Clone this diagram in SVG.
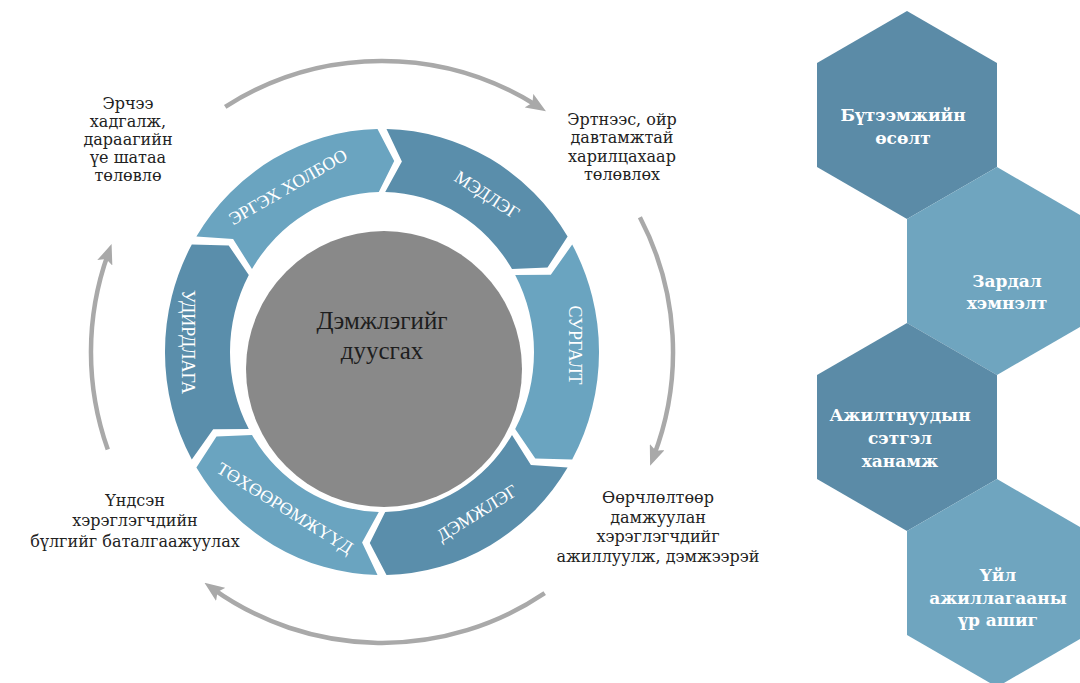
<svg xmlns="http://www.w3.org/2000/svg" width="1080" height="683" viewBox="0 0 1080 683">
  <defs>
    <marker id="head" markerUnits="userSpaceOnUse" viewBox="0 0 20 16" refX="10" refY="8" markerWidth="20" markerHeight="16" orient="auto">
      <path d="M0,0 L20,8 L0,16 L4,8 Z" fill="#a9a9a9"/>
    </marker>
  </defs>
  <style>
    .seg-light { fill: #6aa4c0; }
    .seg-dark { fill: #5a8eab; }
    .seg-text { font-family: "Liberation Serif", "Times New Roman", serif; font-size: 18px; fill: #ffffff; text-anchor: middle; }
    .note { font-family: "DejaVu Serif", "Liberation Serif", serif; font-size: 16px; fill: #222222; text-anchor: middle; }
    .hex-dark { fill: #5b8ba7; }
    .hex-light { fill: #6fa5bf; }
    .hex-text { font-family: "DejaVu Serif", "Liberation Serif", serif; font-size: 17px; font-weight: bold; fill: #ffffff; text-anchor: middle; }
    .arc { fill: none; stroke: #a9a9a9; stroke-width: 4.5; marker-end: url(#head); }
    .center-text { font-family: "Liberation Serif", "Times New Roman", serif; font-size: 25px; fill: #1e1e1e; text-anchor: middle; }
  </style>

  <rect width="1080" height="683" fill="#ffffff"/>

  <!-- circular arrows around the cycle -->
  <g id="connectors">
    <path class="arc" d="M225.2,106.8 A291,291 0 0 1 537.5,106"/>
    <path class="arc" d="M639.9,217.2 A291,291 0 0 1 653.7,456.3"/>
    <path class="arc" d="M544.7,593.2 A291,291 0 0 1 212.6,588.6"/>
    <path class="arc" d="M107.8,449.6 A291,291 0 0 1 108.2,253.4"/>
  </g>

  <!-- cycle segments -->
  <g id="seg-medleg">
    <path class="seg-dark" d="M386.5,129 A217,223 0 0 1 567.6,236.5 L547.5,267.5 L512,269.1 A152,160 0 0 0 385.2,192 L401.9,161.6 Z"/>
    <text class="seg-text" transform="translate(487,195) rotate(33)" y="6">МЭДЛЭГ</text>
  </g>
  <g id="seg-surgalt">
    <path class="seg-light" d="M572.2,244.6 A217,223 0 0 1 572.2,459.4 L535.3,458.5 L515.2,429.1 A152,160 0 0 0 515.2,274.9 L550.8,274.7 Z"/>
    <text class="seg-text" transform="translate(575,345) rotate(90)" y="6">СУРГАЛТ</text>
  </g>
  <g id="seg-demjleg">
    <path class="seg-dark" d="M567.6,467.5 A217,223 0 0 1 386.5,575 L369.8,543.1 L385.2,512 A152,160 0 0 0 512,434.9 L530.9,465.1 Z"/>
    <text class="seg-text" transform="translate(477,513) rotate(-32)" y="6">ДЭМЖЛЭГ</text>
  </g>
  <g id="seg-tukhuurumj">
    <path class="seg-light" d="M377.5,575 A217,223 0 0 1 196.4,467.5 L216.5,436.5 L252,434.9 A152,160 0 0 0 378.8,512 L362.1,542.4 Z"/>
    <text class="seg-text" transform="translate(285,508) rotate(32)" y="6">ТӨХӨӨРӨМЖҮҮД</text>
  </g>
  <g id="seg-udirdlaga">
    <path class="seg-dark" d="M191.8,459.4 A217,223 0 0 1 191.8,244.6 L228.7,245.5 L248.8,274.9 A152,160 0 0 0 248.8,429.1 L213.2,429.3 Z"/>
    <text class="seg-text" transform="translate(188,342) rotate(90)" y="6">УДИРДЛАГА</text>
  </g>
  <g id="seg-ergekh">
    <path class="seg-light" d="M196.4,236.5 A217,223 0 0 1 377.5,129 L394.2,160.9 L378.8,192 A152,160 0 0 0 252,269.1 L233.1,238.9 Z"/>
    <text class="seg-text" transform="translate(288,187) rotate(-30)" y="6">ЭРГЭХ ХОЛБОО</text>
  </g>

  <!-- hub -->
  <g id="hub">
    <circle cx="384" cy="369" r="138" fill="#898989"/>
    <text class="center-text" x="382" y="329">Дэмжлэгийг</text>
    <text class="center-text" x="382" y="359">дуусгах</text>
  </g>

  <!-- notes between the segments -->
  <g id="note-top-left">
    <text class="note" x="128" y="109">Эрчээ</text>
    <text class="note" x="128" y="127">хадгалж,</text>
    <text class="note" x="128" y="145">дараагийн</text>
    <text class="note" x="128" y="163">үе шатаа</text>
    <text class="note" x="128" y="181">төлөвлө</text>
  </g>
  <g id="note-top-right">
    <text class="note" x="622" y="125">Эртнээс, ойр</text>
    <text class="note" x="622" y="143">давтамжтай</text>
    <text class="note" x="622" y="162">харилцахаар</text>
    <text class="note" x="622" y="180">төлөвлөх</text>
  </g>
  <g id="note-bottom-left">
    <text class="note" x="135" y="506">Үндсэн</text>
    <text class="note" x="135" y="526">хэрэглэгчдийн</text>
    <text class="note" x="135" y="547">бүлгийг баталгаажуулах</text>
  </g>
  <g id="note-bottom-right">
    <text class="note" x="658" y="503">Өөрчлөлтөөр</text>
    <text class="note" x="658" y="523">дамжуулан</text>
    <text class="note" x="658" y="542">хэрэглэгчдийг</text>
    <text class="note" x="658" y="562">ажиллуулж, дэмжээрэй</text>
  </g>

  <!-- outcome hexagons -->
  <g id="hex-productivity">
    <polygon class="hex-dark" points="907,11 997,63 997,167 907,219 817,167 817,63"/>
    <text class="hex-text" x="903" y="121">Бүтээмжийн</text>
    <text class="hex-text" x="903" y="144">өсөлт</text>
  </g>
  <g id="hex-cost">
    <polygon class="hex-light" points="997,167 1087,219 1087,323 997,375 907,323 907,219"/>
    <text class="hex-text" x="1007" y="287">Зардал</text>
    <text class="hex-text" x="1007" y="309">хэмнэлт</text>
  </g>
  <g id="hex-satisfaction">
    <polygon class="hex-dark" points="907,323 997,375 997,479 907,531 817,479 817,375"/>
    <text class="hex-text" x="900" y="421">Ажилтнуудын</text>
    <text class="hex-text" x="900" y="444">сэтгэл</text>
    <text class="hex-text" x="900" y="467">ханамж</text>
  </g>
  <g id="hex-efficiency">
    <polygon class="hex-light" points="997,479 1087,531 1087,635 997,687 907,635 907,531"/>
    <text class="hex-text" x="998" y="581">Үйл</text>
    <text class="hex-text" x="998" y="604">ажиллагааны</text>
    <text class="hex-text" x="998" y="626">үр ашиг</text>
  </g>
</svg>
